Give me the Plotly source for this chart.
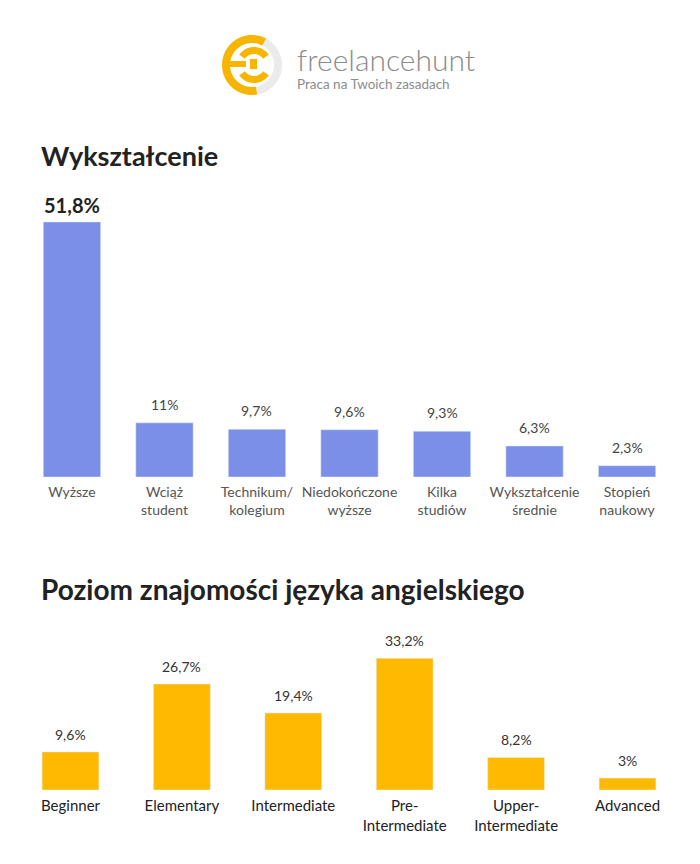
import math
import plotly.graph_objects as go

OFF = 8  # browser body margin
W, H = 700 - OFF, 864 - OFF

# ---- data ----
edu_categories = ["Wyższe", "Wciąż<br>student", "Technikum/<br>kolegium", "Niedokończone<br>wyższe",
                  "Kilka<br>studiów", "Wykształcenie<br>średnie", "Stopień<br>naukowy"]
edu_values = [51.8, 11, 9.7, 9.6, 9.3, 6.3, 2.3]
edu_labels = ["51,8%", "11%", "9,7%", "9,6%", "9,3%", "6,3%", "2,3%"]

eng_categories = ["Beginner", "Elementary", "Intermediate", "Pre-<br>Intermediate",
                  "Upper-<br>Intermediate", "Advanced"]
eng_values = [9.6, 26.7, 19.4, 33.2, 8.2, 3]
eng_labels = ["9,6%", "26,7%", "19,4%", "33,2%", "8,2%", "3%"]

FONT = "Lato"
BLUE = "#7B8FE8"
YELLOW = "#FFBA00"


def px(x):
    return (x - OFF) / W


def py(y):
    return 1 - (y - OFF) / H


fig = go.Figure()
fig.add_trace(go.Bar(x=edu_categories, y=edu_values, marker_color=BLUE, width=0.62,
                     xaxis="x", yaxis="y", hoverinfo="skip"))
fig.add_trace(go.Bar(x=eng_categories, y=eng_values, marker_color=YELLOW, width=0.51,
                     xaxis="x2", yaxis="y2", hoverinfo="skip"))

annotations = []
for i, (c, v, t) in enumerate(zip(edu_categories, edu_values, edu_labels)):
    big = i == 0
    annotations.append(dict(x=c, y=v, xref="x", yref="y", text=("<b>%s</b>" % t) if big else t,
                            showarrow=False, yanchor="bottom", yshift=3 if big else 8,
                            font=dict(family=FONT, size=20 if big else 14, color="#222" if big else "#444")))
for c, v, t in zip(eng_categories, eng_values, eng_labels):
    annotations.append(dict(x=c, y=v, xref="x2", yref="y2", text=t, showarrow=False,
                            yanchor="bottom", yshift=7,
                            font=dict(family=FONT, size=14, color="#333")))

# titles
annotations.append(dict(x=px(39), y=py(155), xref="paper", yref="paper", xanchor="left", yanchor="middle",
                        text="<b>Wykształcenie</b>", showarrow=False,
                        font=dict(family=FONT, size=27, color="#222")))
annotations.append(dict(x=px(39), y=py(589), xref="paper", yref="paper", xanchor="left", yanchor="middle",
                        text="<b>Poziom znajomości języka angielskiego</b>", showarrow=False,
                        font=dict(family=FONT, size=28, color="#222")))
# logo text (one block, two lines)
annotations.append(dict(x=px(295), y=py(66), xref="paper", yref="paper", xanchor="left", yanchor="middle",
                        align="left",
                        text="<span style='font-size:30px;font-weight:300'>freelancehunt</span><br>"
                             "Praca na Twoich zasadach",
                        showarrow=False,
                        font=dict(family=FONT, size=13.5, color="#8C8C8C")))


def arc_path(cx, cy, r_out, r_in, a0, a1, n=60):
    pts = []
    for k in range(n + 1):
        a = math.radians(a0 + (a1 - a0) * k / n)
        pts.append((cx + r_out * math.cos(a), cy - r_out * math.sin(a)))
    for k in range(n + 1):
        a = math.radians(a1 - (a1 - a0) * k / n)
        pts.append((cx + r_in * math.cos(a), cy - r_in * math.sin(a)))
    return "M " + " L ".join("%.5f,%.5f" % (px(x), py(y)) for x, y in pts) + " Z"


CX, CY = 252, 65
LOGO_Y = "#F7B500"
shapes = [
    dict(type="path", xref="paper", yref="paper", path=arc_path(CX, CY, 30, 22, -80, 62),
         fillcolor="#EBEBEB", line=dict(width=0)),
    dict(type="path", xref="paper", yref="paper", path=arc_path(CX, CY, 30, 22, 62, 280),
         fillcolor=LOGO_Y, line=dict(width=0)),
    dict(type="path", xref="paper", yref="paper", path=arc_path(CX + 2, CY, 18, 11, 35, 145),
         fillcolor=LOGO_Y, line=dict(width=0)),
    dict(type="path", xref="paper", yref="paper", path=arc_path(CX + 2, CY, 18, 11, 215, 325),
         fillcolor=LOGO_Y, line=dict(width=0)),
    dict(type="rect", xref="paper", yref="paper", x0=px(228), x1=px(246), y0=py(67), y1=py(61),
         fillcolor=LOGO_Y, line=dict(width=0)),
    dict(type="rect", xref="paper", yref="paper", x0=px(250), x1=px(257), y0=py(69), y1=py(59),
         fillcolor=LOGO_Y, line=dict(width=0)),
]

fig.update_layout(
    width=W, height=H, autosize=False,
    margin=dict(l=0, r=0, t=0, b=0),
    paper_bgcolor="white", plot_bgcolor="white",
    showlegend=False,
    annotations=annotations,
    shapes=shapes,
    xaxis=dict(domain=[px(25.7), px(673.3)], anchor="y", showgrid=False, zeroline=False,
               showline=False, ticks="", ticklabelstandoff=5,
               tickfont=dict(family=FONT, size=14, color="#555"), fixedrange=True),
    yaxis=dict(domain=[py(477), py(181.6)], range=[0, 60], visible=False, fixedrange=True),
    xaxis2=dict(domain=[px(14.8), px(683.2)], anchor="y2", showgrid=False, zeroline=False,
                showline=False, ticks="", ticklabelstandoff=5,
                tickfont=dict(family=FONT, size=15, color="#222"), fixedrange=True),
    yaxis2=dict(domain=[py(790), py(631.2)], range=[0, 40], visible=False, fixedrange=True),
)

fig.write_html("out.html", config=dict(displayModeBar=False))
